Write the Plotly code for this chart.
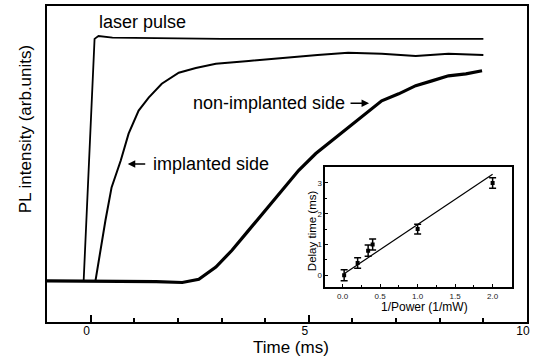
import plotly.graph_objects as go

# ---- main panel data ----
laser_t = [-1.0, -0.16, 0.09, 0.18, 0.5, 1.1, 2.0, 3.0, 4.0, 5.0, 6.0, 7.0, 8.0, 9.0]
laser_v = [0.13, 0.13, 0.896, 0.905, 0.900, 0.899, 0.896, 0.896, 0.896, 0.895, 0.896, 0.896, 0.896, 0.896]

impl_t = [-1.0, 0.11, 0.34, 0.48, 0.69, 0.87, 1.1, 1.33, 1.63, 2.02, 2.41, 2.87,
          3.62, 4.38, 5.2, 5.9, 6.67, 7.45, 8.2, 9.0]
impl_v = [0.13, 0.13, 0.322, 0.426, 0.511, 0.596, 0.669, 0.710, 0.754, 0.789, 0.804, 0.817,
          0.826, 0.836, 0.845, 0.852, 0.849, 0.842, 0.849, 0.845]

non_t = [-1.0, 0.5, 1.5, 2.1, 2.48, 2.87, 3.24, 3.62, 4.0, 4.38, 4.77, 5.16, 5.53, 5.92,
         6.3, 6.67, 7.06, 7.45, 7.82, 8.2, 8.6, 8.97]
non_v = [0.13, 0.13, 0.128, 0.125, 0.135, 0.174, 0.227, 0.290, 0.353, 0.416, 0.480, 0.533,
         0.574, 0.615, 0.659, 0.700, 0.722, 0.748, 0.763, 0.779, 0.785, 0.795]

main_xticks = [0, 5, 10]          # major ticks (labels "0", "5", "10")
main_xminor_step = 1

# ---- inset data ----
inv_power = [0.02, 0.2, 0.34, 0.4, 1.0, 2.0]
delay = [0.0, 0.4, 0.8, 1.0, 1.5, 3.0]
delay_err = [0.18, 0.17, 0.18, 0.18, 0.16, 0.17]
fit_x = [0.02, 2.0]
fit_y = [0.05, 3.28]
inset_xticks = [0.0, 0.5, 1.0, 1.5, 2.0]
inset_xminor_step = 0.25
inset_yticks = [0, 1, 2, 3]
inset_yminor_step = 0.5

FONT = "Liberation Sans, Arial, sans-serif"

fig = go.Figure()
fig.add_trace(go.Scatter(x=non_t, y=non_v, mode="lines",
                         line=dict(color="black", width=3.2), hoverinfo="skip"))
fig.add_trace(go.Scatter(x=impl_t, y=impl_v, mode="lines",
                         line=dict(color="black", width=2), hoverinfo="skip"))
fig.add_trace(go.Scatter(x=laser_t, y=laser_v, mode="lines",
                         line=dict(color="black", width=1.8), hoverinfo="skip"))

fig.add_trace(go.Scatter(x=fit_x, y=fit_y, mode="lines", xaxis="x2", yaxis="y2",
                         line=dict(color="black", width=1.2), hoverinfo="skip"))
fig.add_trace(go.Scatter(x=inv_power, y=delay, mode="markers", xaxis="x2", yaxis="y2",
                         marker=dict(color="black", size=4, symbol="square"),
                         error_y=dict(type="data", array=delay_err, color="black",
                                      thickness=1.5, width=3.5),
                         hoverinfo="skip"))

fig.update_layout(
    width=534, height=364,
    margin=dict(l=47, r=6, t=4, b=42),
    paper_bgcolor="white", plot_bgcolor="white",
    showlegend=False,
    font=dict(family=FONT, color="black"),
    xaxis=dict(domain=[0, 1], range=[-1, 10], showline=True, linewidth=2, linecolor="black",
               mirror=True, ticks="inside", ticklen=7, tickwidth=2, tickcolor="black",
               tickmode="linear", tick0=main_xticks[0], dtick=main_xticks[1] - main_xticks[0],
               minor=dict(ticks="inside", ticklen=4, tickwidth=2, tickcolor="black",
                          dtick=main_xminor_step, showgrid=False),
               showgrid=False, zeroline=False, tickfont=dict(size=12, family=FONT),
               ticklabelshift=-4, ticklabelstandoff=-3),
    yaxis=dict(domain=[0, 1], range=[0, 1], showline=True, linewidth=2, linecolor="black",
               mirror=True, ticks="", showticklabels=False, showgrid=False, zeroline=False),
    xaxis2=dict(domain=[0.580, 0.969], anchor="y2", range=[-0.23, 2.26],
                showline=True, linewidth=1.5, linecolor="black", mirror=True,
                ticks="inside", ticklen=3, tickwidth=1, tickcolor="black",
                tickmode="linear", tick0=inset_xticks[0], dtick=inset_xticks[1] - inset_xticks[0],
                tickformat=".1f",
                minor=dict(ticks="inside", ticklen=2, tickwidth=1, tickcolor="black",
                           dtick=inset_xminor_step, showgrid=False),
                showgrid=False, zeroline=False, tickfont=dict(size=8, family=FONT, color="#222")),
    yaxis2=dict(domain=[0.110, 0.4906], anchor="x2", range=[-0.39, 3.52],
                showline=True, linewidth=1.5, linecolor="black", mirror=True,
                ticks="inside", ticklen=3, tickwidth=1, tickcolor="black",
                tickmode="linear", tick0=inset_yticks[0], dtick=inset_yticks[1] - inset_yticks[0],
                minor=dict(ticks="inside", ticklen=2, tickwidth=1, tickcolor="black",
                           dtick=inset_yminor_step, showgrid=False),
                showgrid=False, zeroline=False, tickfont=dict(size=8, family=FONT, color="#222")),
)

ann = []
# curve labels
ann.append(dict(x=0.14, y=0.95, xref="x", yref="y", text="laser pulse", showarrow=False,
                xanchor="left", yanchor="middle", font=dict(size=18, family=FONT)))
ann.append(dict(x=2.3, y=0.692, xref="x", yref="y", text="non-implanted side", showarrow=False,
                xanchor="left", yanchor="middle", font=dict(size=18, family=FONT)))
ann.append(dict(x=1.38, y=0.50, xref="x", yref="y", text="implanted side", showarrow=False,
                xanchor="left", yanchor="middle", font=dict(size=18, family=FONT)))
# arrows
ann.append(dict(x=6.38, y=0.692, xref="x", yref="y", text="", showarrow=True,
                ax=-20, ay=0, arrowhead=2, arrowsize=1, arrowwidth=1.5, arrowcolor="black",
                standoff=0, startstandoff=0))
ann.append(dict(x=0.85, y=0.50, xref="x", yref="y", text="", showarrow=True,
                ax=19, ay=0, arrowhead=2, arrowsize=1, arrowwidth=1.5, arrowcolor="black",
                standoff=0, startstandoff=0))
# axis titles
ann.append(dict(x=-0.0457, y=0.61, xref="paper", yref="paper", text="PL intensity (arb.units)",
                textangle=-90, showarrow=False, xanchor="center", yanchor="middle",
                font=dict(size=17, family=FONT)))
ann.append(dict(x=0.509, y=-0.082, xref="paper", yref="paper", text="Time (ms)",
                showarrow=False, xanchor="center", yanchor="middle",
                font=dict(size=17, family=FONT)))
# inset titles
ann.append(dict(x=0.786, y=0.049, xref="paper", yref="paper", text="1/Power (1/mW)",
                showarrow=False, xanchor="center", yanchor="middle",
                font=dict(size=12, family=FONT)))
ann.append(dict(x=0.551, y=0.289, xref="paper", yref="paper", text="Delay time (ms)",
                textangle=-90, showarrow=False, xanchor="center", yanchor="middle",
                font=dict(size=11.5, family=FONT)))
fig.update_layout(annotations=ann)

fig.write_html("out.html")
